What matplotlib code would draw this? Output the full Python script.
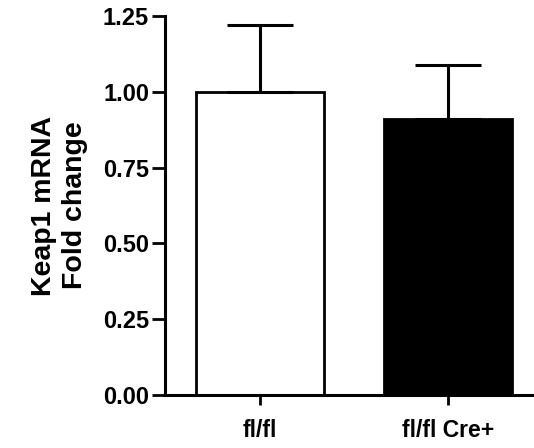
import matplotlib
matplotlib.use("Agg")
import matplotlib.pyplot as plt
import numpy as np

groups = ["fl/fl", "fl/fl Cre+"]
means = [1.00, 0.91]
errors = [0.22, 0.18]
colors = ["white", "black"]
yticks = [0.00, 0.25, 0.50, 0.75, 1.00, 1.25]

plt.rcParams["font.family"] = ["Liberation Sans", "DejaVu Sans"]
plt.rcParams["font.weight"] = "bold"

fig = plt.figure(figsize=(5.34, 4.48), dpi=100)
ax = fig.add_axes([165 / 534, 1 - 395 / 448, 1 - 165 / 534, (395 - 16) / 448])

x = np.arange(len(groups))
ax.bar(x, means, width=0.68, color=colors, edgecolor="black", linewidth=2.0, zorder=2)
ax.errorbar(x, means, yerr=[np.zeros(len(errors)), errors], fmt="none",
            ecolor="black", elinewidth=2.2, capsize=23.5, capthick=2.2, zorder=3)

ax.set_xlim(-0.505, 1.457)
ax.set_ylim(0, 1.25)
ax.set_yticks(yticks)
ax.set_yticklabels([f"{v:.2f}" for v in yticks])
ax.set_xticks(x)
ax.set_xticklabels(groups)

for s in ["top", "right"]:
    ax.spines[s].set_visible(False)
for s in ["left", "bottom"]:
    ax.spines[s].set_linewidth(2.2)

ax.tick_params(axis="y", length=9.5, width=2.0, labelsize=17, pad=2)
ax.tick_params(axis="x", length=7, width=2.0, labelsize=16.5, pad=10)
for lbl in ax.get_xticklabels() + ax.get_yticklabels():
    lbl.set_fontweight("bold")

ax.set_ylabel("Keap1 mRNA\nFold change", fontsize=20.5, fontweight="bold", labelpad=11,
              linespacing=1.25)

fig.savefig("out.png", dpi=100)
